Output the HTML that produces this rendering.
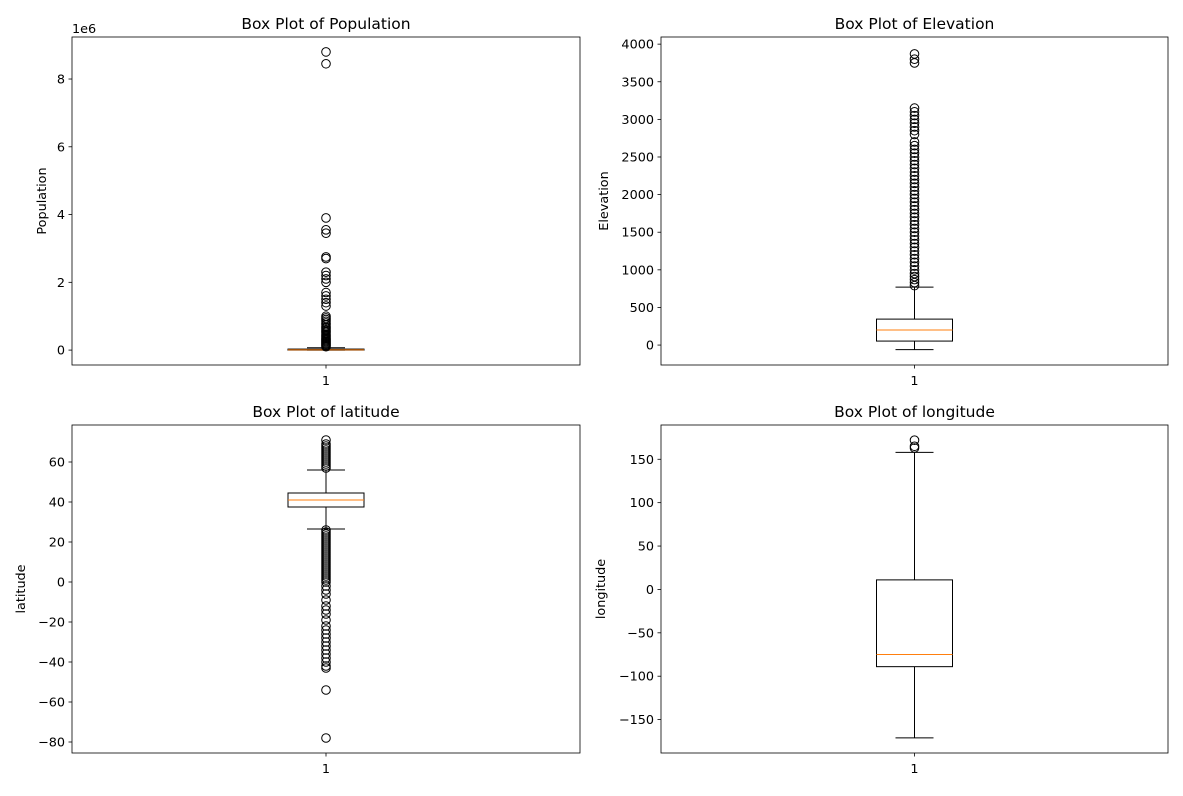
<!DOCTYPE html>
<html><head><meta charset="utf-8"><style>
body{margin:0;background:#fff}
svg{font-family:"DejaVu Sans","Liberation Sans",sans-serif}
</style></head><body>
<svg id="fig" width="1183" height="791" xmlns="http://www.w3.org/2000/svg"></svg>
<script>
// ---- data ----
const popStats = [0, 0, 8000, 30000, 70000]; // whislo, q1, med, q3, whishi
const popOutliers = [100000,130000,160000,190000,220000,250000,280000,310000,340000,370000,400000,430000,460000,500000,540000,580000,620000,660000,700000,750000,800000,850000,900000,950000,1000000,1300000,1400000,1500000,1600000,1700000,2000000,2100000,2200000,2300000,2700000,2750000,3450000,3550000,3900000,8450000,8800000];
const popTicks = [0,2,4,6,8];

const elevStats = [-60, 53, 200, 345, 770];
const elevOutliers = [790,830,870,910,950,1000,1050,1100,1150,1200,1250,1300,1350,1400,1450,1500,1550,1600,1650,1700,1750,1800,1850,1900,1950,2000,2050,2100,2150,2200,2250,2300,2350,2400,2450,2500,2550,2600,2650,2700,2800,2850,2900,2950,3000,3050,3100,3150,3750,3800,3870];
const elevTicks = [0,500,1000,1500,2000,2500,3000,3500,4000];

const latStats = [26.5, 37.5, 41, 44.5, 56];
const latOutliers = [57,58,59,60,61,62,63,64,65,66,67,68,69,71,26,25,24,23,22,21,20,19,18,17,16,15,14,13,12,11,10,9,8,7,6,5,4,3,2,1,0,-2,-4,-6,-9,-12,-14,-16,-19,-22,-24,-26,-28,-30,-32,-34,-36,-38,-40,-42,-43,-54,-78];
const latTicks = [-80,-60,-40,-20,0,20,40,60];

const lonStats = [-171, -89, -75, 11, 158];
const lonOutliers = [163,165,172];
const lonTicks = [-150,-100,-50,0,50,100,150];

const panels = [
 {title:"Box Plot of Population", ylabel:"Population", lx:46, x0:72,x1:580,y0:37,y1:365, vmin:-0.44e6, vmax:9.24e6, stats:popStats, out:popOutliers, ticks:popTicks, scale:1e6, offset:"1e6"},
 {title:"Box Plot of Elevation", ylabel:"Elevation", lx:608, x0:661,x1:1168,y0:37,y1:365, vmin:-265, vmax:4095, stats:elevStats, out:elevOutliers, ticks:elevTicks, scale:1},
 {title:"Box Plot of latitude", ylabel:"latitude", lx:25, x0:72,x1:580,y0:425,y1:753, vmin:-85.5, vmax:78.5, stats:latStats, out:latOutliers, ticks:latTicks, scale:1},
 {title:"Box Plot of longitude", ylabel:"longitude", lx:605, x0:661,x1:1168,y0:425,y1:753, vmin:-188.5, vmax:189.5, stats:lonStats, out:lonOutliers, ticks:lonTicks, scale:1}
];
const svg=document.getElementById('fig');
const NS="http://www.w3.org/2000/svg";
function mk(tag,attrs,parent,text){const e=document.createElementNS(NS,tag);for(const k in attrs)e.setAttribute(k,attrs[k]);if(text!==undefined)e.textContent=text;parent.appendChild(e);return e;}
panels.forEach((p,i)=>{
 const g=mk('g',{},svg);
 
 
 const y=v=>p.y1-(v-p.vmin)/(p.vmax-p.vmin)*(p.y1-p.y0);
 const cx=(p.x0+p.x1)/2, hw=38, cw=19;
 const t=mk('text',{x:cx,y:p.y0-8,'text-anchor':'middle','font-size':15.5},g,p.title);
 
 p.ticks.forEach(v=>{
  const yy=y(v*p.scale);
  mk('line',{x1:p.x0-3.5,x2:p.x0,y1:yy,y2:yy,stroke:'#000','stroke-width':0.8},g);
  const l=mk('text',{x:p.x0-7,y:yy+4.5,'text-anchor':'end','font-size':12.8},g,v<0?'\u2212'+(-v):String(v));
  
 });
 if(p.offset){mk('text',{x:p.x0,y:p.y0-4,'font-size':12.8},g,p.offset);}
 mk('line',{x1:cx,x2:cx,y1:p.y1,y2:p.y1+3.5,stroke:'#000','stroke-width':0.8},g);
 const xl=mk('text',{x:cx,y:p.y1+20,'text-anchor':'middle','font-size':12.8},g,'1');
 
 const yl=mk('text',{transform:`translate(${p.lx},${(p.y0+p.y1)/2}) rotate(-90)`,'text-anchor':'middle','font-size':12.8},g,p.ylabel);
 
 const s=p.stats;
 mk('line',{x1:cx,x2:cx,y1:y(s[0]),y2:y(s[1]),stroke:'#000'},g);
 mk('line',{x1:cx,x2:cx,y1:y(s[3]),y2:y(s[4]),stroke:'#000'},g);
 mk('line',{x1:cx-cw,x2:cx+cw,y1:y(s[0]),y2:y(s[0]),stroke:'#000'},g);
 mk('line',{x1:cx-cw,x2:cx+cw,y1:y(s[4]),y2:y(s[4]),stroke:'#000'},g);
 const box=mk('rect',{x:cx-hw,y:y(s[3]),width:2*hw,height:Math.max(0.5,y(s[1])-y(s[3])),fill:'none',stroke:'#000'},g);
 
 mk('line',{x1:cx-hw,x2:cx+hw,y1:y(s[2]),y2:y(s[2]),stroke:'#ff7f0e'},g);
 p.out.forEach(v=>{
  const c=mk('circle',{cx:cx,cy:y(v),r:4.3,fill:'none',stroke:'#000','stroke-width':1},g);
  
 });
 mk('rect',{x:p.x0,y:p.y0,width:p.x1-p.x0,height:p.y1-p.y0,fill:'none',stroke:'#000','stroke-width':0.8},g);
});
</script>
</body></html>
